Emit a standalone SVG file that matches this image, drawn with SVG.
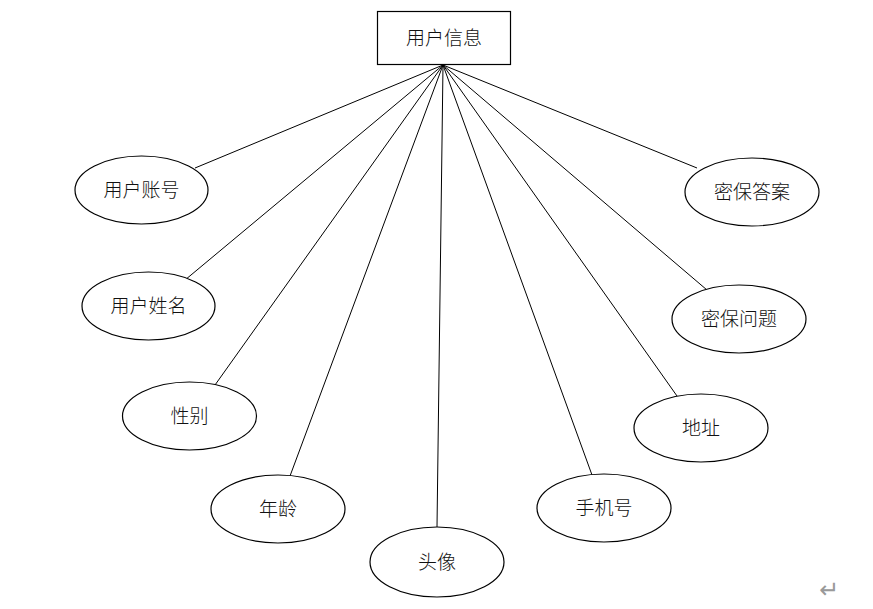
<svg xmlns="http://www.w3.org/2000/svg" width="873" height="609" viewBox="0 0 873 609">
<style>
.n{fill:#fff;stroke:#000;stroke-width:1.2}
.t{font-family:"Noto Sans CJK SC","Noto Sans CJK JP",sans-serif;font-size:19px;font-weight:300;fill:#111;text-anchor:middle;dominant-baseline:central}
.c line{stroke:#000;stroke-width:1}
</style>
<rect width="873" height="609" fill="#fff"/>
<g class="c" id="connectors">
<line x1="443" y1="65" x2="195" y2="168"/>
<line x1="443" y1="65" x2="185" y2="280"/>
<line x1="443" y1="65" x2="215" y2="385"/>
<line x1="443" y1="65" x2="290" y2="476"/>
<line x1="443" y1="65" x2="437" y2="527"/>
<line x1="443" y1="65" x2="592" y2="475"/>
<line x1="443" y1="65" x2="677" y2="396"/>
<line x1="443" y1="65" x2="707" y2="290"/>
<line x1="443" y1="65" x2="697" y2="168"/>
</g>
<g id="user-info"><rect class="n" x="377.5" y="11.5" width="133" height="53"/><text class="t" x="444" y="36">用户信息</text></g>
<g id="account"><ellipse class="n" cx="141.5" cy="190" rx="66.5" ry="34"/><text class="t" x="141.5" y="188">用户账号</text></g>
<g id="name"><ellipse class="n" cx="148.5" cy="306" rx="66.5" ry="34"/><text class="t" x="148.5" y="304">用户姓名</text></g>
<g id="gender"><ellipse class="n" cx="189.5" cy="416" rx="67" ry="34"/><text class="t" x="189.5" y="414">性别</text></g>
<g id="age"><ellipse class="n" cx="278" cy="509" rx="67" ry="34"/><text class="t" x="278" y="507">年龄</text></g>
<g id="avatar"><ellipse class="n" cx="437" cy="562" rx="67" ry="35"/><text class="t" x="437" y="560">头像</text></g>
<g id="phone"><ellipse class="n" cx="604" cy="508" rx="67" ry="34"/><text class="t" x="604" y="506">手机号</text></g>
<g id="address"><ellipse class="n" cx="701" cy="428" rx="67" ry="34"/><text class="t" x="701" y="426">地址</text></g>
<g id="question"><ellipse class="n" cx="739" cy="319" rx="67" ry="34"/><text class="t" x="739" y="317">密保问题</text></g>
<g id="answer"><ellipse class="n" cx="752" cy="192" rx="67" ry="34"/><text class="t" x="752" y="190">密保答案</text></g>
<text x="829" y="590" style="font-family:'DejaVu Sans',sans-serif;font-size:24px;fill:#999;text-anchor:middle;dominant-baseline:central">↵</text>
</svg>
